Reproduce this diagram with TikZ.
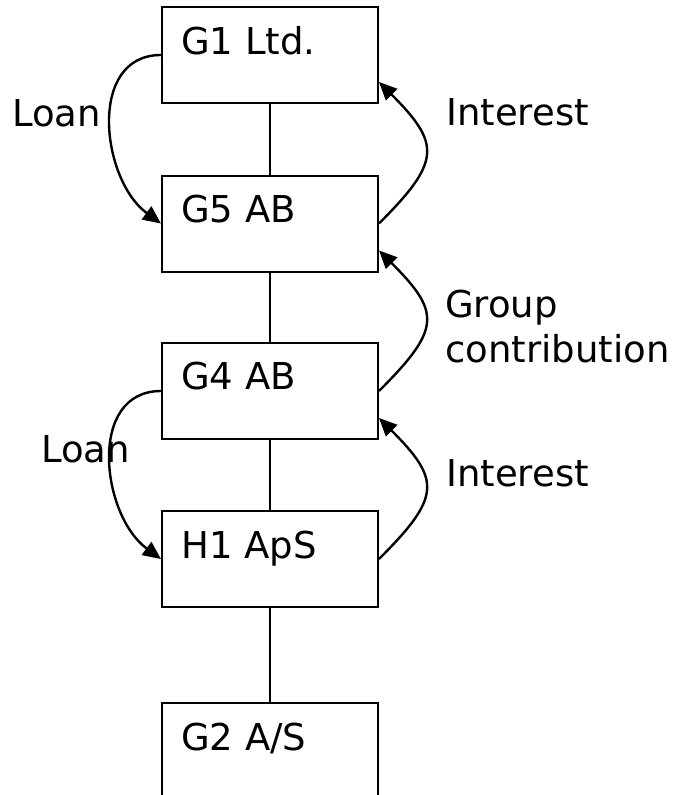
\documentclass[tikz,border=0pt]{standalone}
\usepackage{fontspec}
\setmainfont{DejaVu Sans}
\usetikzlibrary{arrows.meta}
\begin{document}
\begin{tikzpicture}[x=1pt,y=-1pt,
  company/.style={draw=black,line width=2pt,rectangle,minimum width=216pt,minimum height=96pt,inner sep=0pt},
  caption/.style={anchor=base west,inner sep=0pt,font=\fontsize{37}{46}\selectfont},
  link/.style={line width=2pt},
  flow/.style={line width=2.4pt,-{Triangle[length=18pt,width=16pt]}}]
\useasboundingbox (0,0) rectangle (675,795);
% company boxes
\node[company] (g1) at (270,55) {};
\node[company] (g5) at (270,223.5) {};
\node[company] (g4) at (270,391) {};
\node[company] (h1) at (270,559) {};
\node[company] (g2) at (270,751) {};
% box names
\node[caption] (t1) at (181,54) {G1 Ltd.};
\node[caption] (t5) at (181,222) {G5 AB};
\node[caption] (t4) at (181,389) {G4 AB};
\node[caption] (th) at (181,558) {H1 ApS};
\node[caption] (t2) at (181,750) {G2 A/S};
% ownership chain
\draw[link] (g1.south) -- (g5.north);
\draw[link] (g5.south) -- (g4.north);
\draw[link] (g4.south) -- (h1.north);
\draw[link] (h1.south) -- (g2.north);
% flows on the left
\draw[flow] (g1.west) .. controls +(-74,0) and +(-60,-44) .. (g5.west);
\draw[flow] (g4.west) .. controls +(-74,0) and +(-60,-44) .. (h1.west);
% flows on the right
\draw[flow] (g5.east) .. controls +(62,-62) and +(62,62) .. ([yshift=22pt]g1.south east);
\draw[flow] (g4.east) .. controls +(62,-62) and +(62,62) .. ([yshift=22pt]g5.south east);
\draw[flow] (h1.east) .. controls +(62,-62) and +(62,62) .. ([yshift=22pt]g4.south east);
% flow labels
\node[caption] (l1) at (12,126) {Loan};
\node[caption] (l2) at (41,462) {Loan};
\node[caption] (i1) at (446,125) {Interest};
\node[caption] (c1) at (445,317) {Group};
\node[caption] (c2) at (445,362) {contribution};
\node[caption] (i2) at (446,486) {Interest};
\end{tikzpicture}
\end{document}
